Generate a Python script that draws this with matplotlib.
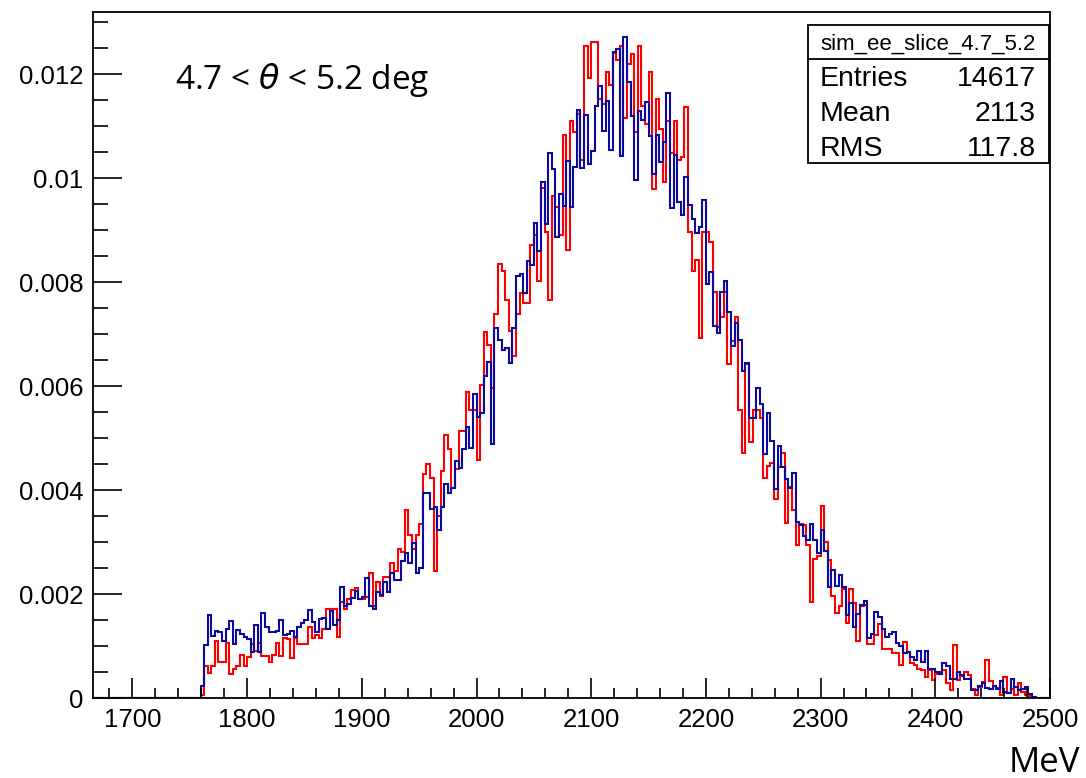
import numpy as np
import matplotlib
matplotlib.use("Agg")
import matplotlib.pyplot as plt
from matplotlib.ticker import MultipleLocator, FixedLocator
from matplotlib.patches import Rectangle
from matplotlib.lines import Line2D

# ---------------- data ----------------
bin_width = 3.125            # MeV
first_edge = 1759.375        # MeV, lower edge of first non-empty bin
x_range = (1665.625, 2500.0)
scale = 1e-4                 # values below are in units of 1e-4

blue_vals = [
    2.4, 10.1, 16.0, 11.9, 12.8, 12.6, 10.9, 13.3, 14.9, 10.4,
    13.1, 12.4, 11.8, 11.3, 8.8, 14.0, 8.8, 16.4, 13.7, 12.6,
    12.6, 12.9, 15.0, 12.2, 12.3, 12.8, 11.8, 13.7, 14.5, 15.0,
    16.9, 14.6, 12.6, 15.1, 15.4, 13.3, 16.7, 14.1, 15.0, 21.4,
    17.6, 18.1, 19.2, 20.5, 19.1, 19.4, 23.1, 17.7, 17.2, 20.4,
    19.9, 22.4, 20.4, 24.0, 22.7, 22.7, 26.3, 27.9, 25.9, 29.9,
    24.1, 25.0, 39.5, 39.4, 36.3, 36.8, 32.4, 36.8, 41.2, 39.5,
    40.4, 45.5, 44.2, 47.9, 52.2, 48.1, 58.5, 54.0, 54.9, 61.9,
    64.6, 48.9, 71.2, 68.8, 66.9, 67.3, 64.4, 71.2, 81.2, 81.6,
    77.8, 84.0, 83.3, 91.3, 86.0, 99.3, 91.1, 104.8, 101.7, 88.7,
    96.9, 94.7, 103.3, 94.4, 102.2, 113.1, 101.9, 112.2, 102.6, 105.2,
    113.8, 117.6, 109.0, 114.8, 105.3, 124.3, 124.8, 104.2, 127.1, 118.5,
    112.0, 99.7, 112.8, 111.1, 114.6, 108.0, 100.8, 108.3, 103.1, 107.0,
    116.3, 94.2, 104.4, 95.4, 92.9, 100.2, 94.9, 92.1, 89.4, 90.6,
    95.7, 79.7, 81.9, 71.5, 70.1, 78.1, 80.1, 74.3, 67.6, 72.2,
    68.8, 62.8, 64.4, 53.9, 53.8, 59.7, 56.5, 46.9, 54.9, 49.4,
    40.1, 48.5, 44.5, 42.2, 40.4, 43.3, 33.8, 33.3, 31.2, 30.4,
    33.5, 30.4, 27.9, 32.4, 28.2, 21.3, 24.6, 21.5, 23.6, 21.3,
    15.9, 18.3, 13.6, 16.2, 17.8, 18.6, 11.5, 12.4, 16.5, 15.5,
    13.3, 11.8, 12.3, 12.7, 10.5, 10.0, 8.7, 8.8, 7.9, 7.3,
    9.1, 6.9, 9.1, 5.5, 5.5, 5.0, 4.6, 6.8, 6.2, 3.7,
    3.6, 5.0, 4.4, 3.6, 3.7, 1.5, 1.5, 2.3, 2.9, 1.9,
    1.7, 2.4, 1.7, 3.3, 1.2, 1.0, 3.6, 2.1, 1.5, 1.8,
    2.1, 0.8, 0.2,
]

red_vals = [
    0.6, 6.2, 4.9, 6.2, 11.0, 6.9, 6.9, 10.5, 4.7, 5.5,
    6.2, 8.2, 6.2, 7.9, 10.3, 9.1, 10.6, 8.1, 8.1, 6.9,
    8.3, 10.6, 8.1, 11.5, 11.4, 7.7, 11.5, 10.4, 10.4, 10.4,
    13.7, 11.5, 12.2, 11.5, 13.3, 17.1, 17.1, 17.2, 11.8, 18.5,
    17.2, 19.1, 20.8, 21.2, 19.1, 19.1, 19.4, 24.0, 17.6, 22.3,
    19.7, 23.2, 23.2, 26.0, 24.5, 28.7, 28.1, 36.2, 31.4, 28.6,
    31.4, 33.5, 43.1, 45.0, 42.4, 24.5, 35.0, 43.7, 50.5, 47.8,
    40.4, 44.1, 51.3, 51.3, 58.8, 55.4, 55.4, 45.8, 60.2, 70.4,
    67.8, 59.6, 73.9, 83.5, 82.1, 76.6, 70.6, 65.7, 73.9, 77.8,
    76.0, 76.0, 87.1, 89.0, 80.1, 98.0, 89.7, 76.6, 96.6, 94.4,
    89.0, 108.3, 86.2, 111.0, 108.9, 112.4, 103.4, 125.3, 119.3, 126.1,
    126.1, 115.2, 114.3, 120.4, 117.9, 124.0, 122.6, 125.3, 111.6, 121.9,
    123.9, 108.9, 125.3, 113.8, 110.3, 120.4, 97.9, 115.1, 109.5, 99.3,
    111.0, 104.8, 111.0, 103.4, 104.0, 113.7, 89.7, 82.1, 84.2, 69.2,
    89.6, 89.7, 87.6, 78.1, 71.3, 73.3, 78.1, 64.3, 68.7, 73.3,
    55.4, 47.2, 64.3, 49.3, 55.3, 55.4, 53.8, 42.4, 44.6, 45.1,
    38.3, 44.5, 47.2, 33.6, 40.6, 36.2, 29.5, 33.5, 33.3, 29.4,
    18.5, 26.7, 27.4, 36.9, 30.0, 26.5, 19.7, 16.4, 17.7, 21.0,
    14.4, 21.0, 18.2, 10.9, 17.6, 17.8, 10.3, 10.3, 12.2, 14.2,
    9.5, 9.5, 9.5, 8.6, 8.7, 6.3, 10.8, 8.8, 6.7, 6.3,
    5.6, 5.3, 4.1, 5.3, 3.5, 4.6, 5.0, 5.4, 2.8, 1.5,
    10.1, 3.5, 4.2, 5.0, 4.4, 1.8, 0.6, 2.2, 3.1, 7.3,
    3.2, 2.4, 1.9, 0.5, 4.0, 1.0, 1.7, 0.5, 2.9, 1.2,
    0.6, 0.4,
]

x_ticks = [1700, 1800, 1900, 2000, 2100, 2200, 2300, 2400, 2500]
y_ticks = [0, 0.002, 0.004, 0.006, 0.008, 0.01, 0.012]
y_tick_labels = ["0", "0.002", "0.004", "0.006", "0.008", "0.01", "0.012"]

hist_name = "sim_ee_slice_4.7_5.2"
stats = [("Entries", "14617"), ("Mean", "2113"), ("RMS", "117.8")]
slice_label = r"4.7 < $\theta$ < 5.2 deg"
x_label = "MeV"

# ---------------- build full-range histograms ----------------
n_lead = int(round((first_edge - x_range[0]) / bin_width))
n_total = int(round((x_range[1] - x_range[0]) / bin_width))
edges = x_range[0] + bin_width * np.arange(n_total + 1)

def full(vals):
    arr = np.zeros(n_total)
    v = np.asarray(vals) * scale
    arr[n_lead:n_lead + len(v)] = v
    return arr

red = full(red_vals)
blue = full(blue_vals)

# ---------------- figure ----------------
W, H = 1086, 778
fig = plt.figure(figsize=(W / 100, H / 100), dpi=100)
plt.rcParams['font.family'] = ['Liberation Sans', 'DejaVu Sans']
plt.rcParams['mathtext.fontset'] = 'dejavusans'

L, R, B, T = 93, 1050, 698, 12
ax = fig.add_axes([L / W, 1 - B / H, (R - L) / W, (B - T) / H])

ax.stairs(red, edges, color="#ff0000", lw=1.5, baseline=None)
ax.stairs(blue, edges, color="#0a0a9c", lw=1.5, baseline=None)

ax.set_xlim(*x_range)
ax.set_ylim(0, (B - T) / 52000.0)

ax.xaxis.set_major_locator(FixedLocator(x_ticks))
ax.xaxis.set_minor_locator(MultipleLocator(20))
ax.yaxis.set_major_locator(FixedLocator(y_ticks))
ax.yaxis.set_minor_locator(MultipleLocator(0.0005))
ax.set_xticklabels([str(t) for t in x_ticks])
ax.set_yticklabels(y_tick_labels)

ax.tick_params(axis='both', which='both', direction='in', top=False, right=False,
               width=1.2, labelsize=18.5, pad=7)
ax.tick_params(axis='x', which='major', length=14.5)
ax.tick_params(axis='x', which='minor', length=7.2)
ax.tick_params(axis='y', which='major', length=21)
ax.tick_params(axis='y', which='minor', length=10.5)
for s in ax.spines.values():
    s.set_linewidth(1.3)

# x-axis title at lower right
fig.text(1080 / W, 1 - 763 / H, x_label, ha='right', va='center', fontsize=25,
         family=['Open Sans', 'DejaVu Sans'])

# slice label
fig.text(175 / W, 1 - 80 / H, slice_label, ha='left', va='center', fontsize=24,
         family=['Open Sans', 'DejaVu Sans'])

# stats box
bx0, bx1, by0, by1, bsep = 808, 1049, 25, 163, 59
fig.patches.append(Rectangle((bx0 / W, 1 - by1 / H), (bx1 - bx0) / W, (by1 - by0) / H,
                             transform=fig.transFigure, facecolor='white',
                             edgecolor='black', lw=1.3, zorder=5))
fig.lines.append(Line2D([bx0 / W, bx1 / W], [1 - bsep / H, 1 - bsep / H],
                        transform=fig.transFigure, color='black', lw=1.3, zorder=6))
fig.text((bx0 + bx1) / 2 / W, 1 - 44 / H, hist_name, ha='center', va='center',
         fontsize=16, zorder=7)
for i, (k, v) in enumerate(stats):
    yy = 1 - (78.5 + 35.5 * i) / H
    fig.text(820 / W, yy, k, ha='left', va='center', fontsize=20.5, zorder=7)
    fig.text(1036 / W, yy, v, ha='right', va='center', fontsize=20.5, zorder=7)

fig.savefig("out.png", dpi=100)
